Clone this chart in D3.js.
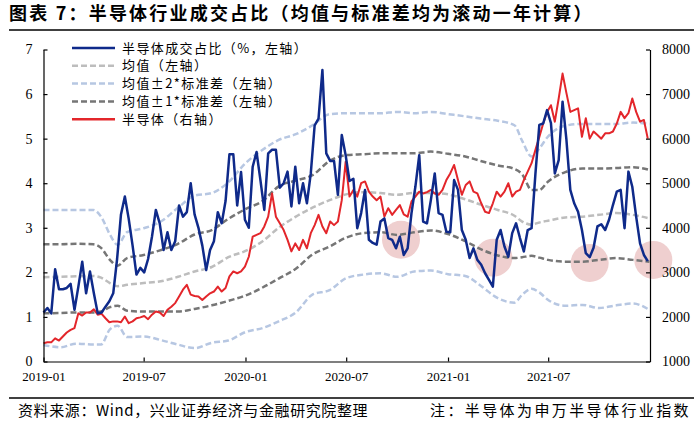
<!DOCTYPE html>
<html>
<head>
<meta charset="utf-8">
<script src="https://cdn.jsdelivr.net/npm/d3@7"></script>
<style>
  body { margin: 0; background: #fff; }
  svg text { font-family: "Liberation Serif", "Times New Roman", serif; fill: #000; }
  svg text.cjk { font-family: "Noto Sans CJK SC", sans-serif; }
</style>
</head>
<body>
<div id="chart"></div>
<script>
// 周度数据：半导体成交占比（%，左轴）与申万半导体指数（右轴）
const weekStart = new Date(2019, 0, 1);
const shareValues = [
  1.10, 1.20, 1.08, 2.07, 1.62, 1.62, 1.65, 1.74, 1.16, 1.68, 2.24, 1.53, 2.02, 1.53, 1.08, 1.10,
  1.23, 1.35, 1.53, 2.30, 3.30, 3.70, 3.20, 2.60, 1.95, 2.10, 2.00, 2.30, 2.80, 3.40, 3.10, 2.50,
  2.90, 2.50, 2.70, 3.50, 3.25, 3.35, 4.00, 3.30, 3.00, 2.60, 2.05, 2.50, 2.70, 3.35, 3.10, 3.60,
  4.65, 4.65, 3.50, 4.25, 3.18, 3.00, 4.37, 4.70, 4.07, 3.40, 4.67, 4.75, 4.75, 3.90, 4.00, 4.26,
  3.48, 4.37, 3.55, 4.00, 3.55, 4.22, 5.30, 5.45, 6.54, 4.67, 4.50, 4.50, 3.74, 5.08, 4.63, 4.05,
  4.10, 2.99, 3.33, 3.85, 2.73, 2.66, 2.62, 3.14, 3.21, 2.77, 2.73, 2.54, 2.80, 2.39, 2.54, 3.33,
  3.92, 4.63, 3.14, 3.10, 3.62, 4.22, 3.33, 3.29, 2.91, 2.90, 4.07, 3.85, 2.95, 2.73, 2.32, 2.54,
  2.28, 2.17, 1.98, 1.83, 1.68, 2.73, 2.95, 2.58, 2.35, 2.88, 3.10, 2.77, 2.47, 2.95, 2.99, 4.22,
  5.31, 5.34, 5.64, 5.35, 4.22, 4.52, 5.83, 4.97, 3.85, 3.55, 3.36, 2.95, 2.43, 2.34, 2.55, 3.03,
  3.08, 2.95, 3.18, 3.51, 3.81, 3.85, 2.99, 4.26, 3.92, 3.25, 2.65, 2.39, 2.25
];
const indexValues = [
  1410, 1430, 1430, 1520, 1470, 1560, 1650, 1710, 1750, 2080, 2030, 2100, 2100, 2170, 2050, 2070,
  1970, 1880, 1900, 1900, 1880, 2010, 1860, 1900, 1970, 1990, 2020, 1950, 2050, 2120, 2100, 2020,
  2160, 2230, 2310, 2460, 2610, 2720, 2500, 2470, 2460, 2380, 2460, 2530, 2570, 2680, 2570, 2650,
  2910, 3020, 2980, 3020, 3130, 3350, 3800, 3840, 3880, 4030, 4250, 4770, 4250, 4100, 3950, 3730,
  3470, 3650, 3500, 3730, 3540, 3880, 4060, 4290, 4030, 3880, 4140, 4060, 4140, 4620, 5480, 4700,
  4850, 4700, 5000, 5040, 4810, 4700, 4620, 4700, 4250, 4440, 4290, 4400, 4510, 4300, 4250, 4590,
  4700, 4810, 4770, 4800, 4850, 4770, 4740, 4850, 5070, 5220, 5410, 5070, 4740, 4960, 5040, 4810,
  4770, 4550, 4360, 4330, 4550, 4810, 4700, 4810, 5000, 4700, 4810, 4850, 5070, 5260, 5450, 5750,
  6040, 6340, 6600, 6750, 6380, 6900, 7460, 7020, 6600, 6640, 6680, 6040, 6460, 6000, 6160, 6080,
  6000, 6120, 6120, 6160, 6340, 6600, 6460, 6570, 6900, 6600, 6380, 6420, 6000
];

// 滚动一年均值与标准差带（左轴）
const bandDates = [
  "2019-01-01", "2019-02-01", "2019-03-01", "2019-04-01", "2019-04-15", "2019-05-01", "2019-05-15",
  "2019-06-01", "2019-07-01", "2019-08-01", "2019-09-01", "2019-10-01", "2019-11-01", "2019-12-01",
  "2020-01-01", "2020-02-01", "2020-03-01", "2020-04-01", "2020-05-01", "2020-06-01", "2020-07-01",
  "2020-08-01", "2020-09-01", "2020-10-01", "2020-11-01", "2020-12-01", "2021-01-01", "2021-02-01",
  "2021-03-01", "2021-04-01", "2021-05-01", "2021-05-15", "2021-06-01", "2021-06-15", "2021-07-01",
  "2021-08-01", "2021-09-01", "2021-10-01", "2021-11-01", "2021-12-01", "2021-12-31"
];
const meanValues = [
  1.89, 1.90, 1.91, 1.92, 1.88, 1.76, 1.69, 1.72, 1.76, 1.80, 1.90, 2.02, 2.12, 2.34,
  2.48, 2.70, 3.00, 3.25, 3.45, 3.62, 3.75, 3.80, 3.78, 3.74, 3.78, 3.78, 3.75, 3.64,
  3.52, 3.40, 3.27, 3.14, 3.07, 3.12, 3.16, 3.23, 3.25, 3.29, 3.33, 3.29, 3.21
];
const plus1Values = [
  2.63, 2.63, 2.64, 2.63, 2.55, 2.28, 2.15, 2.32, 2.39, 2.50, 2.64, 2.85, 2.95, 3.20,
  3.42, 3.60, 3.93, 4.06, 4.18, 4.50, 4.63, 4.65, 4.67, 4.67, 4.67, 4.71, 4.66, 4.60,
  4.50, 4.40, 4.32, 4.20, 3.85, 3.85, 4.04, 4.25, 4.33, 4.33, 4.34, 4.36, 4.30
];
const minus1Values = [
  1.08, 1.09, 1.10, 1.10, 1.12, 1.22, 1.25, 1.14, 1.12, 1.12, 1.12, 1.18, 1.26, 1.36,
  1.48, 1.66, 1.86, 2.08, 2.40, 2.58, 2.78, 2.88, 2.90, 2.84, 2.90, 2.94, 2.86, 2.70,
  2.52, 2.38, 2.32, 2.34, 2.37, 2.33, 2.28, 2.24, 2.24, 2.28, 2.32, 2.28, 2.24
];
const plus2Values = [
  3.40, 3.40, 3.40, 3.40, 3.25, 2.85, 2.62, 2.90, 2.99, 3.14, 3.45, 3.72, 3.78, 4.02,
  4.45, 4.75, 4.97, 5.10, 5.30, 5.55, 5.57, 5.57, 5.57, 5.60, 5.57, 5.60, 5.55, 5.50,
  5.45, 5.40, 5.30, 4.95, 4.60, 4.78, 5.05, 5.29, 5.33, 5.33, 5.33, 5.36, 5.33
];
const minus2Values = [
  0.37, 0.32, 0.40, 0.38, 0.38, 0.72, 0.80, 0.55, 0.56, 0.48, 0.38, 0.30, 0.42, 0.47,
  0.66, 0.75, 0.90, 1.10, 1.50, 1.60, 1.87, 1.95, 1.98, 1.90, 2.02, 2.04, 1.96, 1.92,
  1.70, 1.42, 1.32, 1.50, 1.63, 1.55, 1.38, 1.25, 1.27, 1.20, 1.26, 1.30, 1.16
];

// 标注圆圈（左轴坐标）
const markDates = ["2020-10-08", "2021-03-24", "2021-09-14", "2022-01-07"];
const markValues = [2.73, 2.33, 2.21, 2.28];

const xTickDates = ["2019-01-01", "2019-07-01", "2020-01-01", "2020-07-01", "2021-01-01", "2021-07-01"];
const legendLabels = ["半导体成交占比（%，左轴）", "均值（左轴）", "均值±2*标准差（左轴）", "均值±1*标准差（左轴）", "半导体（右轴）"];

const width = 700, height = 428;
const plot = { left: 43.5, right: 650, top: 49.5, bottom: 361.5 };
const parse = d3.timeParse("%Y-%m-%d");
const weekDates = shareValues.map((d, i) => d3.timeDay.offset(weekStart, 7 * i));

const svg = d3.select("#chart").append("svg")
  .attr("width", width).attr("height", height);

// 比例尺
const x = d3.scaleTime()
  .domain([new Date(2019, 0, 1), new Date(2022, 0, 1)])
  .range([plot.left, plot.right]);
const yL = d3.scaleLinear().domain([0, 7]).range([plot.bottom, plot.top]);
const yR = d3.scaleLinear().domain([1000, 8000]).range([plot.bottom, plot.top]);

// 标题
svg.append("text").attr("class", "cjk")
  .attr("x", 9).attr("y", 20)
  .style("font-size", "18px").style("font-weight", "bold")
  .style("letter-spacing", "2.2px")
  .text("图表 7：半导体行业成交占比（均值与标准差均为滚动一年计算）");
svg.append("line").attr("x1", 9).attr("x2", 694).attr("y1", 30).attr("y2", 30)
  .attr("stroke", "#000").attr("stroke-width", 1.5);

// 标注圆圈
svg.append("g").selectAll("circle")
  .data(markDates)
  .enter().append("circle")
  .attr("cx", d => x(parse(d)))
  .attr("cy", (d, i) => yL(markValues[i]))
  .attr("r", 19)
  .attr("fill", "#efcfcf");

// 均值与标准差带
const bandLine = d3.line()
  .x((d, i) => x(parse(bandDates[i])))
  .y(d => yL(d))
  .curve(d3.curveMonotoneX);

const bands = [
  { values: plus2Values, color: "#b7c7e2" },
  { values: minus2Values, color: "#b7c7e2" },
  { values: meanValues, color: "#bdbdbd" },
  { values: plus1Values, color: "#767676" },
  { values: minus1Values, color: "#767676" }
];
bands.forEach(b => {
  svg.append("path")
    .datum(b.values)
    .attr("fill", "none")
    .attr("stroke", b.color)
    .attr("stroke-width", 2.5)
    .attr("stroke-dasharray", "6,3")
    .attr("d", bandLine);
});

// 半导体指数（右轴）
const indexLine = d3.line()
  .x((d, i) => x(weekDates[i]))
  .y(d => yR(d));
svg.append("path")
  .datum(indexValues)
  .attr("fill", "none")
  .attr("stroke", "#e3262b")
  .attr("stroke-width", 2)
  .attr("stroke-linejoin", "round")
  .attr("d", indexLine);

// 成交占比（左轴）
const shareLine = d3.line()
  .x((d, i) => x(weekDates[i]))
  .y(d => yL(d));
svg.append("path")
  .datum(shareValues)
  .attr("fill", "none")
  .attr("stroke", "#0f2a8a")
  .attr("stroke-width", 2.5)
  .attr("stroke-linejoin", "round")
  .attr("d", shareLine);

// 坐标轴
const leftAxis = svg.append("g")
  .attr("transform", `translate(${plot.left},0)`)
  .call(d3.axisLeft(yL).ticks(7).tickSize(-4).tickPadding(11).tickSizeOuter(0));
const rightAxis = svg.append("g")
  .attr("transform", `translate(${plot.right},0)`)
  .call(d3.axisRight(yR).ticks(7).tickSize(-4).tickPadding(12).tickSizeOuter(0).tickFormat(d3.format("d")));
const bottomAxis = svg.append("g")
  .attr("transform", `translate(0,${plot.bottom})`)
  .call(d3.axisBottom(x).tickValues(xTickDates.map(parse)).tickSize(-4).tickPadding(10)
    .tickSizeOuter(0).tickFormat(d3.timeFormat("%Y-%m")));

[leftAxis, rightAxis, bottomAxis].forEach(g => {
  g.select(".domain").attr("stroke", "#000").attr("stroke-width", 1.2);
  g.selectAll(".tick line").attr("stroke", "#000").attr("stroke-width", 1.2);
  g.selectAll("text").style("font-family", "'Liberation Serif', serif").attr("fill", "#000");
});
leftAxis.selectAll("text").style("font-size", "14px");
rightAxis.selectAll("text").style("font-size", "14px");
bottomAxis.selectAll("text").style("font-size", "13px");

// 图例
const legendStyles = [
  { color: "#0f2a8a", dash: null, w: 2.5 },
  { color: "#bdbdbd", dash: "6,3", w: 2.5 },
  { color: "#b7c7e2", dash: "6,3", w: 2.5 },
  { color: "#767676", dash: "6,3", w: 2.5 },
  { color: "#e3262b", dash: null, w: 2.5 }
];
const legend = svg.append("g").attr("transform", "translate(72,48)");
legendLabels.forEach((label, i) => {
  const row = legend.append("g").attr("transform", `translate(0,${i * 17.8})`);
  row.append("line")
    .attr("x1", 0).attr("x2", 43).attr("y1", 0).attr("y2", 0)
    .attr("stroke", legendStyles[i].color)
    .attr("stroke-width", legendStyles[i].w)
    .attr("stroke-dasharray", legendStyles[i].dash);
  row.append("text").attr("class", "cjk")
    .attr("x", 50).attr("y", 0).attr("dy", "0.35em")
    .style("font-size", "13px").style("letter-spacing", "1.4px")
    .text(label);
});

// 脚注
svg.append("line").attr("x1", 9).attr("x2", 694).attr("y1", 398).attr("y2", 398)
  .attr("stroke", "#000").attr("stroke-width", 1.5);
svg.append("text").attr("class", "cjk")
  .attr("x", 18).attr("y", 416)
  .style("font-size", "15px").style("letter-spacing", "0.6px").attr("fill", "#222")
  .text("资料来源：Wind，兴业证券经济与金融研究院整理");
svg.append("text").attr("class", "cjk")
  .attr("x", 430).attr("y", 416)
  .style("font-size", "15px").style("letter-spacing", "2.4px").attr("fill", "#222")
  .text("注：半导体为申万半导体行业指数");
</script>
</body>
</html>
